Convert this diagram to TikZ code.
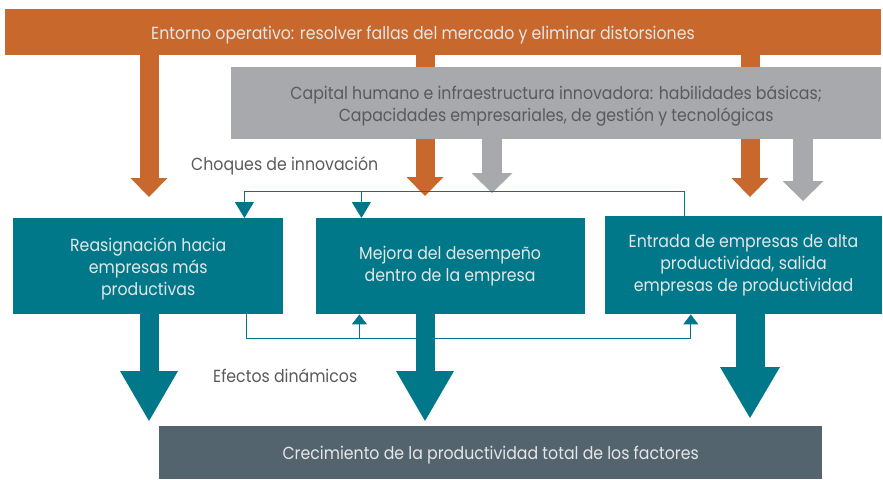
\documentclass[tikz,border=0pt]{standalone}
\usepackage{fontspec}
\setmainfont{Poppins}[FakeStretch=0.9]
\usepackage{xcolor}
\usetikzlibrary{arrows.meta,positioning,backgrounds,calc}
\definecolor{envorange}{HTML}{C8682C}
\definecolor{capgray}{HTML}{A7A9AC}
\definecolor{flowteal}{HTML}{007889}
\definecolor{outslate}{HTML}{53646E}
\definecolor{lighttext}{HTML}{E4E6E7}
\definecolor{darktext}{HTML}{595A5C}

\begin{document}
\begin{tikzpicture}[
    x=1pt, y=-1pt,
    boxfont/.style={font=\fontsize{17.5}{22}\selectfont},
    env_bar/.style={rectangle, fill=envorange, minimum width=876pt, minimum height=46pt, inner sep=0pt},
    cap_box/.style={rectangle, fill=capgray, text=darktext, align=center, inner sep=0pt, minimum width=650pt, minimum height=72pt, text depth=0pt, boxfont},
    proc_box/.style={rectangle, fill=flowteal, text=lighttext, align=center, inner sep=0pt, minimum height=96pt, boxfont},
    out_box/.style={rectangle, fill=outslate, text=lighttext, inner sep=0pt, minimum width=663pt, minimum height=53pt, text depth=0pt, boxfont},
    side_note/.style={text=darktext, anchor=west, inner sep=0pt, boxfont},
    env_arrow/.style={envorange, line width=19pt, -{Triangle[width=37pt, length=19pt, line width=0pt]}},
    cap_arrow/.style={capgray, line width=20pt, -{Triangle[width=41pt, length=20pt, line width=0pt]}},
    tfp_arrow/.style={flowteal, line width=19pt, -{Triangle[width=58pt, length=50pt, line width=0pt]}},
    shock_link/.style={flowteal, line width=1pt, -{Triangle[width=19pt, length=16pt]}},
    effect_link/.style={flowteal, line width=1pt, -{Triangle[width=15pt, length=10pt]}}
]
\useasboundingbox (0,0) rectangle (883,479);

% columns of the block arrows
\coordinate (colA) at (149,0);
\coordinate (colB) at (425,0);
\coordinate (colC) at (750,0);
\coordinate (colD) at (492,0);
\coordinate (colE) at (803,0);

% Top bars
\node[env_bar] (envbar) at (443,32) {};
\node[text=lighttext, text depth=0pt, boxfont] (envtxt) at (423,33) {Entorno operativo: resolver fallas del mercado y eliminar distorsiones};
\node[cap_box, anchor=north west] (capbox) at (231,67) {Capital humano e infraestructura innovadora: habilidades básicas;\\Capacidades empresariales, de gestión y tecnológicas};

% Channels
\node[proc_box, minimum width=270pt, text depth=0pt, anchor=north west] (realloc) at (13,218) {Reasignación hacia\\empresas más\\productivas};
\node[proc_box, minimum width=269pt, right=32pt of realloc] (within) {Mejora del desempeño\\dentro de la empresa};
\node[proc_box, minimum width=277pt, minimum height=98pt, above right=0pt and 20pt of within.south east] (entry) {Entrada de empresas de alta\\productividad, salida\\empresas de productividad};

% Result
\node[out_box, anchor=north west] (tfp) at (159,426) {Crecimiento de la productividad total de los factores};

% Labels
\node[side_note] (shocks) at (191,166) {Choques de innovación};
\node[side_note] (effects) at (213,376) {Efectos dinámicos};

% Connections
\begin{scope}[on background layer]
\draw[env_arrow, shorten >=21pt] (envbar.south -| colA) -- (realloc.north -| colA);
\draw[env_arrow, shorten >=22pt] (envbar.south -| colB) -- (within.north -| colB);
\draw[env_arrow, shorten >=19pt] (envbar.south -| colC) -- (entry.north -| colC);
\draw[cap_arrow, shorten >=25pt] (capbox.south -| colD) -- (within.north -| colD);
\draw[cap_arrow, shorten >=15pt] (capbox.south -| colE) -- (entry.north -| colE);

\draw[tfp_arrow, shorten >=5pt] (realloc.south -| colA) -- (tfp.north -| colA);
\draw[tfp_arrow, shorten >=5pt] (within.south -| colB) -- (tfp.north -| colB);
\draw[tfp_arrow, line width=29pt, -{Triangle[width=60pt, length=51pt, line width=0pt]}, shorten >=8pt] (entry.south -| colC) -- (tfp.north -| colC);
\end{scope}

\draw[shock_link] ([xshift=80pt]entry.north west) -- ++(0,-25) -| ([xshift=-39pt]realloc.north east);
\draw[shock_link] ($(within.north west)+(46,-27)$) -- ([xshift=46pt]within.north west);
\draw[effect_link] ([xshift=-37pt]realloc.south east) |- ($(entry.south west)+(86,24)$) -- ([xshift=86pt]entry.south west);
\draw[effect_link] ($(within.south west)+(44,24)$) -- ([xshift=44pt]within.south west);

\end{tikzpicture}
\end{document}
